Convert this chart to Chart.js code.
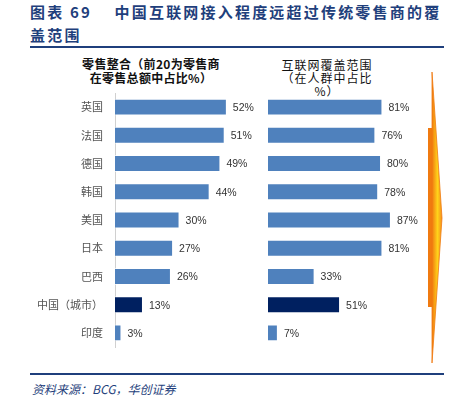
<!DOCTYPE html>
<html>
<head>
<meta charset="utf-8">
<script src="https://cdn.jsdelivr.net/npm/chart.js@4"></script>
<style>
  body { margin: 0; background: #fff; width: 460px; height: 397px; position: relative; overflow: hidden;
         font-family: "Noto Sans CJK SC", sans-serif; }
  .abs { position: absolute; }
  #title { left: 30px; top: 0px; font-size: 15px; font-weight: bold; color: #1f3f7c; line-height: 23px; letter-spacing: 2.2px; }
  #topRule { left: 30px; top: 46px; width: 414px; height: 2px; background: #1f3f7c; }
  #bottomRule { left: 30px; top: 373px; width: 414px; height: 1.5px; background: #1f3f7c; }
  #source { left: 32px; top: 380px; font-size: 12px; font-style: italic; color: #1f3f7c; }
  .ctitle { text-align: center; font-size: 12px; line-height: 14px; color: #111; }
  #leftTitle { left: 66px; top: 57px; width: 170px; font-weight: bold; letter-spacing: 0.3px; }
  #rightTitle { left: 270px; top: 58px; width: 114px; letter-spacing: 1px; line-height: 13px; }
  #leftChart { left: 0px; top: 88px; }
  #rightChart { left: 262px; top: 88px; }
</style>
</head>
<body>
<div id="title" class="abs">图表 69&nbsp;&nbsp;&nbsp;&nbsp;中国互联网接入程度远超过传统零售商的覆<br>盖范围</div>
<div id="topRule" class="abs"></div>
<div id="leftTitle" class="abs ctitle">零售整合（前20为零售商<br>在零售总额中占比%）</div>
<div id="rightTitle" class="abs ctitle">互联网覆盖范围<br>（在人群中占比<br>%）</div>
<canvas id="leftChart" class="abs" width="260" height="264"></canvas>
<canvas id="rightChart" class="abs" width="160" height="264"></canvas>
<svg class="abs" style="left:420px;top:66px" width="30" height="302">
  <defs>
    <linearGradient id="arrowGrad" x1="0" y1="0" x2="1" y2="0">
      <stop offset="0" stop-color="#f07a10"/>
      <stop offset="0.55" stop-color="#ffd21a"/>
      <stop offset="1" stop-color="#f5901a"/>
    </linearGradient>
  </defs>
  <rect x="8" y="62" width="6" height="179" fill="#f07a10"/>
  <polygon points="12,6 22,152 12,297" fill="url(#arrowGrad)" stroke="#f07a10" stroke-width="0.8"/>
</svg>
<div id="bottomRule" class="abs"></div>
<div id="source" class="abs">资料来源：BCG，华创证券</div>

<script>
const categories = ['英国', '法国', '德国', '韩国', '美国', '日本', '巴西', '中国（城市）', '印度'];
const retailShare = [52, 51, 49, 44, 30, 27, 26, 13, 3];
const internetReach = [81, 76, 80, 78, 87, 81, 33, 51, 7];

const barBlue = '#4f81bd';
const barNavy = '#002060';
const barColors = categories.map(c => c === '中国（城市）' ? barNavy : barBlue);

// draws "NN%" just to the right of each bar
const valueLabels = {
  id: 'valueLabels',
  afterDatasetsDraw(chart) {
    const ctx = chart.ctx;
    const meta = chart.getDatasetMeta(0);
    const data = chart.data.datasets[0].data;
    ctx.save();
    ctx.font = '10.5px "Liberation Sans", Arial, sans-serif';
    ctx.fillStyle = '#333';
    ctx.textAlign = 'left';
    ctx.textBaseline = 'middle';
    meta.data.forEach((bar, i) => {
      ctx.fillText(data[i] + '%', bar.x + 6, bar.y + 1);
    });
    ctx.restore();
  }
};

function makeChart(canvasId, values, xMax, showCategories, pad) {
  return new Chart(document.getElementById(canvasId), {
    type: 'bar',
    data: {
      labels: categories,
      datasets: [{
        data: values,
        backgroundColor: barColors,
        borderColor: 'rgba(255,255,255,0.6)',
        borderWidth: 1,
        categoryPercentage: 1,
        barPercentage: 0.6
      }]
    },
    options: {
      indexAxis: 'y',
      responsive: false,
      animation: false,
      layout: { padding: pad },
      plugins: { legend: { display: false }, tooltip: { enabled: false } },
      scales: {
        x: { display: false, min: 0, max: xMax },
        y: {
          display: showCategories,
          grid: { display: false, drawTicks: false },
          border: { display: true, color: '#d0d0d0', width: 1 },
          ticks: {
            padding: 12,
            color: '#555',
            font: { family: '"Noto Sans CJK SC", sans-serif', size: 11 }
          },
          afterFit(scale) {
            if (showCategories) scale.width = 115;
            // no extra room above/below the category band
            scale.paddingTop = 0;
            scale.paddingBottom = 0;
          }
        }
      }
    },
    plugins: [valueLabels]
  });
}

makeChart('leftChart', retailShare, 67.4, true, { top: 5, bottom: 5, left: 0, right: 0 });
makeChart('rightChart', internetReach, 109, false, { top: 5, bottom: 5, left: 6, right: 0 });
</script>
</body>
</html>
